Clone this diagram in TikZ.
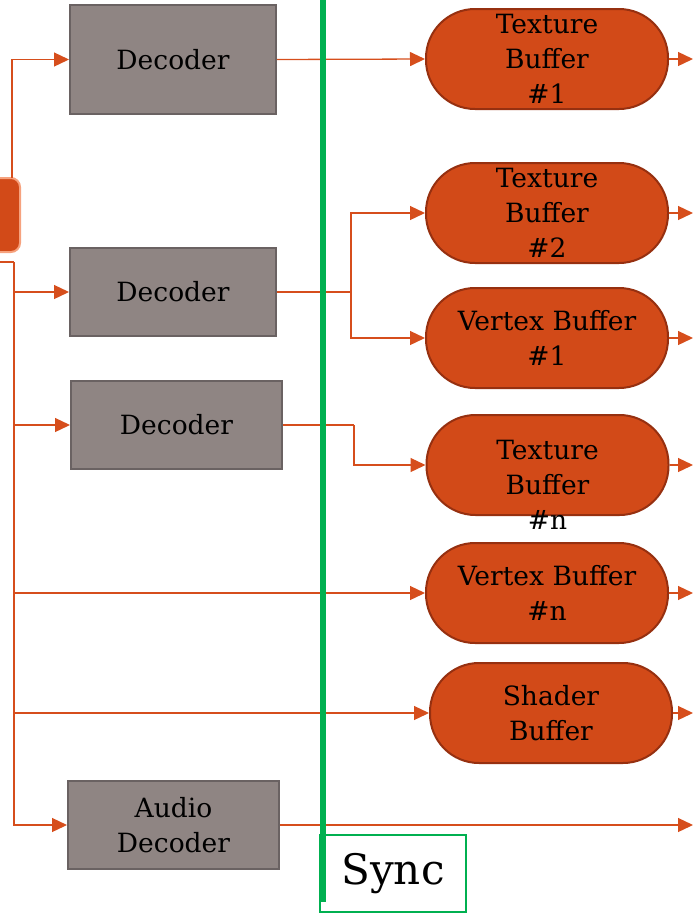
\documentclass[tikz,border=0pt]{standalone}
\usepackage{fontspec}
\setmainfont{DejaVu Serif}
\usetikzlibrary{arrows.meta,calc}
\definecolor{rust}{HTML}{D24A18}
\definecolor{rustedge}{HTML}{963010}
\definecolor{wire}{HTML}{D64E1C}
\definecolor{decfill}{HTML}{8F8583}
\definecolor{decedge}{HTML}{6A6262}
\definecolor{srcedge}{HTML}{F6A27E}
\definecolor{syncgreen}{HTML}{00B050}
\begin{document}
\begin{tikzpicture}[x=1pt,y=-1pt,
  link/.style={draw=wire, line width=1.3pt},
  flow/.style={link, -{Triangle[length=15pt,width=14pt]}},
  label/.style={font=\fontsize{26.5}{35}\selectfont, align=center, inner sep=0pt},
  decbox/.style={label, draw=decedge, fill=decfill, line width=2pt,
    minimum width=206pt, minimum height=88pt},
  buf/.style={label, draw=rustedge, fill=rust, line width=2pt,
    rounded corners=49pt, minimum width=242pt, minimum height=100pt},
  srcbox/.style={draw=srcedge, fill=rust, line width=2pt, rounded corners=9pt,
    minimum width=80pt, minimum height=74pt},
  syncbox/.style={draw=syncgreen, line width=1.8pt, minimum width=146pt,
    minimum height=77pt, font=\fontsize{42}{50}\selectfont, inner sep=0pt}]
\useasboundingbox (0,0) rectangle (693,914);
\clip (0,0) rectangle (693,914);

% source block at the left edge
\node[srcbox] (src) at (-20,215) {};

% decoders
\node[decbox, minimum height=109pt] (dec1) at (173,59.5) {Decoder};
\node[decbox] (dec2) at (173,292) {Decoder};
\node[decbox, minimum width=211pt] (dec3) at (176.5,425) {Decoder};
\node[decbox, minimum width=211pt] (aud) at (173.5,825) {Audio\\Decoder};

% buffers
\node[buf] (tb1) at (547,59) {Texture\\Buffer\\\#1};
\node[buf] (tb2) at (547,213) {Texture\\Buffer\\\#2};
\node[buf] (vb1) at (547,338) {Vertex Buffer\\\#1};
\node[buf] (tbn) at (547.5,465) {};
\node[label] (tbntext) at (547.5,485) {Texture\\Buffer\\\#n};
\node[buf] (vbn) at (547,593) {Vertex Buffer\\\#n};
\node[buf] (shd) at (551,713) {Shader\\Buffer};

% sync box
\node[syncbox] (sync) at (393,873.5) {Sync};

% bus from the source block
\coordinate (busTop) at (12,178);
\coordinate (busSplit) at (0,262);
\coordinate (busX) at (14,262);
\draw[flow] (busTop) |- (dec1.west);
\draw[link] (busSplit) -- (busX);
\draw[flow] (busX) |- (dec2.west);
\draw[flow] (busX) |- (dec3.west);
\draw[flow] (busX) |- (vbn.west);
\draw[flow] (busX) |- (shd.west);
\draw[flow] (busX) |- (aud.west);

% decoders to buffers
\draw[flow] (dec1.east) -- (tb1.west);
\coordinate (j2) at (351,292);
\draw[link] (dec2.east) -- (j2);
\draw[flow] (j2) |- (tb2.west);
\draw[flow] (j2) |- (vb1.west);
\coordinate (j3) at (354,425);
\draw[link] (dec3.east) -- (j3);
\draw[flow] (j3) |- (tbn.west);

% outputs leaving on the right
\coordinate (o1) at (693,59);
\coordinate (o2) at (693,213);
\coordinate (o3) at (693,338);
\coordinate (o4) at (693,465);
\coordinate (o5) at (693,593);
\coordinate (o6) at (693,713);
\coordinate (o7) at (693,825);
\draw[flow] (tb1.east) -- (o1);
\draw[flow] (tb2.east) -- (o2);
\draw[flow] (vb1.east) -- (o3);
\draw[flow] (tbn.east) -- (o4);
\draw[flow] (vbn.east) -- (o5);
\draw[flow] (shd.east) -- (o6);
\draw[flow] (aud.east) -- (o7);

% sync barrier
\coordinate (gTop) at (323,0);
\coordinate (gBot) at (323,902);
\draw[syncgreen, line width=6pt] (gTop) -- (gBot);
\end{tikzpicture}
\end{document}
